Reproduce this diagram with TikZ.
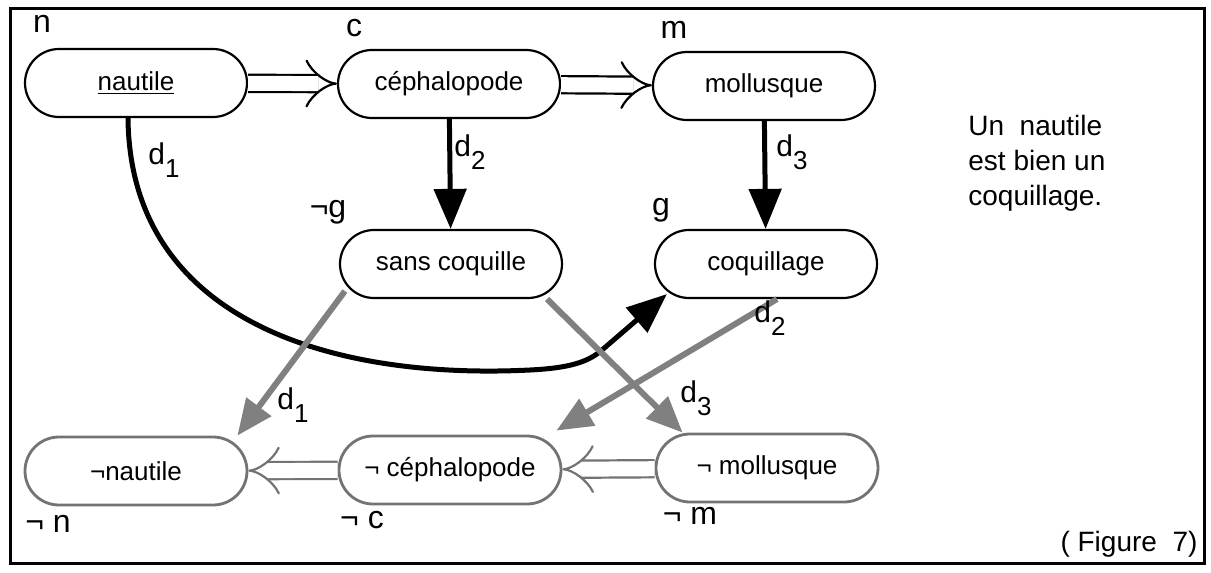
\documentclass[tikz,border=0pt]{standalone}
\usepackage{fontspec}
\setmainfont{Liberation Sans}
\usetikzlibrary{arrows.meta}

\newcommand{\dind}[1]{d\raisebox{-0.8ex}{\fontsize{13}{13}\selectfont #1}}

\begin{document}
\begin{tikzpicture}[x=0.5pt,y=-0.5pt,
  etat/.style={draw,line width=1.1pt,rounded corners=17pt,minimum width=111pt,
    minimum height=34pt,inner sep=0pt,font=\fontsize{13}{15}\selectfont},
  netat/.style={etat,draw=black!55,line width=1.4pt},
  lettre/.style={font=\fontsize{16}{18}\selectfont,inner sep=0pt},
  dlab/.style={font=\fontsize{15}{17}\selectfont,inner sep=0pt},
  impl/.style={double,double distance=7.5pt,line width=1.1pt,-{Implies}},
  nimpl/.style={impl,draw=black!55},
  dflt/.style={line width=2.5pt,-{Triangle[length=20pt,width=16pt]}},
  ndflt/.style={line width=3pt,draw=black!50,-{Triangle[length=18pt,width=15pt]}}]
\useasboundingbox (0,0) rectangle (1211,573);
\draw[line width=1.5pt] (10,8) rectangle (1204,563);
% noeuds du haut
\node[etat] (n) at (136,83) {\underline{nautile}};
\node[etat] (c) at (449,84) {céphalopode};
\node[etat] (m) at (764,86) {mollusque};
\node[etat] (ng) at (451,264) {sans coquille};
\node[etat] (g) at (766,264) {coquillage};
% noeuds du bas
\node[netat] (nn) at (136,471) {¬nautile};
\node[netat] (nc) at (450,470) {¬ céphalopode};
\node[netat] (nm) at (767,468) {¬ mollusque};
\node[lettre] (ln) at (42,24) {n};
\node[lettre] (lc) at (354,28) {c};
\node[lettre] (lm) at (674,30) {m};
\node[lettre] (lng) at (328,212) {¬g};
\node[lettre] (lg) at (661,210) {g};
\node[lettre] (lnn) at (48,524) {¬ n};
\node[lettre] (lnc) at (362,520) {¬ c};
\node[lettre] (lnm) at (690,516) {¬ m};
\draw[impl] (n) -- (c);
\draw[impl] (c) -- (m);
\draw[nimpl] (nc) -- (nn);
\draw[nimpl] (nm) -- (nc);
\draw[dflt] (c) -- (ng);
\draw[dflt] (m) -- (g);
\draw[dflt] ([xshift=-4pt]n.south) .. controls (130,320) and (330,380) .. (530,370)
  .. controls (570,368) and (588,362) .. (602,350) -- ([xshift=6.5pt,yshift=2.5pt]g.south west);
\draw[ndflt] ([xshift=3pt,yshift=4pt]ng.south west) -- ([xshift=-5.5pt]nn.north east);
\draw[ndflt] ([xshift=-8pt]ng.south east) -- ([xshift=14pt]nm.north west);
\draw[ndflt] ([xshift=5.5pt]g.south) -- ([xshift=-3pt,yshift=2pt]nc.north east);
\node[dlab] (d1) at (164,160) {\dind{1}};
\node[dlab] (d2) at (470,152) {\dind{2}};
\node[dlab] (d3) at (792,152) {\dind{3}};
\node[dlab] (d1b) at (293,405) {\dind{1}};
\node[dlab] (d2b) at (770,318) {\dind{2}};
\node[dlab] (d3b) at (696,398) {\dind{3}};
\node[font=\fontsize{14}{17.5}\selectfont,align=left,anchor=west,inner sep=0pt]
  (txt) at (968,163) {Un\ \ nautile\\est\ bien\ un\\coquillage.};
\node[font=\fontsize{14}{16}\selectfont,inner sep=0pt] (fig) at (1129,544) {( Figure\ \ 7)};
\end{tikzpicture}
\end{document}
